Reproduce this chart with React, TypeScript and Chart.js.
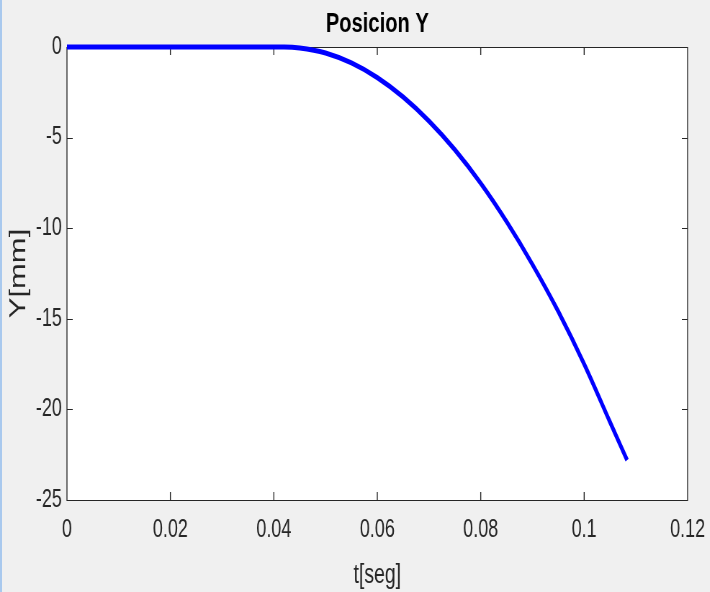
import React, { useEffect, useRef } from "react";
import { Chart, registerables } from "chart.js";

Chart.register(...registerables);

// Data
const tValues = [0, 0.01, 0.02, 0.03, 0.04, 0.042, 0.045, 0.05, 0.055, 0.06, 0.065, 0.07, 0.075, 0.08, 0.085, 0.09, 0.095, 0.1, 0.105, 0.1083];
const yValues = [0, 0, 0, 0, 0, 0, -0.05, -0.33, -0.88, -1.69, -2.76, -4.09, -5.67, -7.52, -9.64, -12.0, -14.6, -17.5, -20.7, -22.8];

const xTickValues = [0, 0.02, 0.04, 0.06, 0.08, 0.1, 0.12];
const xTickLabels = ["0", "0.02", "0.04", "0.06", "0.08", "0.1", "0.12"];
const yTickValues = [-25, -20, -15, -10, -5, 0];
const yTickLabels = ["-25", "-20", "-15", "-10", "-5", "0"];

const titleText = "Posicion Y";
const xTitle = "t[seg]";
const yTitle = "Y[mm]";

const SQUEEZE = 0.72;
const VIEW_W = 710;
const VIEW_H = 592;
const CANVAS_W = Math.round(VIEW_W / SQUEEZE);
const FONT = "'Liberation Sans', Arial, Helvetica, sans-serif";
const AXIS_COLOR = "#262626";

const framePlugin = {
  id: "matlabFrame",
  beforeDraw(chart: any) {
    const { ctx, chartArea } = chart;
    ctx.save();
    ctx.fillStyle = "#f0f0f0";
    ctx.fillRect(0, 0, chart.width, chart.height);
    ctx.fillStyle = "#ffffff";
    ctx.fillRect(chartArea.left, chartArea.top, chartArea.right - chartArea.left, chartArea.bottom - chartArea.top);
    // title centred over the axes box
    ctx.fillStyle = "#000000";
    ctx.font = `bold 28px ${FONT}`;
    ctx.textAlign = "center";
    ctx.textBaseline = "alphabetic";
    ctx.fillText(titleText, (chartArea.left + chartArea.right) / 2, 32);
    ctx.restore();
  },
  beforeDatasetsDraw(chart: any) {
    const { ctx, chartArea } = chart;
    const { left, right, top, bottom } = chartArea;
    const xs = chart.scales.x;
    const ys = chart.scales.y;
    const tl = 8;
    ctx.save();
    ctx.strokeStyle = AXIS_COLOR;
    ctx.lineWidth = 1;
    ctx.beginPath();
    ctx.moveTo(left, top + 0.5);
    ctx.lineTo(right, top + 0.5);
    ctx.moveTo(left, bottom + 0.5);
    ctx.lineTo(right, bottom + 0.5);
    ctx.stroke();
    ctx.lineWidth = 1 / SQUEEZE;
    ctx.beginPath();
    ctx.moveTo(left, top);
    ctx.lineTo(left, bottom + 1);
    ctx.moveTo(right, top);
    ctx.lineTo(right, bottom + 1);
    xs.ticks.forEach((t: any) => {
      const px = xs.getPixelForValue(t.value);
      if (px > left + 2 && px < right - 2) {
        ctx.moveTo(px, bottom);
        ctx.lineTo(px, bottom - tl);
        ctx.moveTo(px, top);
        ctx.lineTo(px, top + tl);
      }
    });
    ctx.stroke();
    ctx.lineWidth = 1;
    ctx.beginPath();
    ys.ticks.forEach((t: any) => {
      const py = Math.round(ys.getPixelForValue(t.value)) + 0.5;
      if (py > top + 2 && py < bottom - 2) {
        ctx.moveTo(left, py);
        ctx.lineTo(left + tl, py);
        ctx.moveTo(right, py);
        ctx.lineTo(right - tl, py);
      }
    });
    ctx.stroke();
    ctx.restore();
  },
};

export default function App() {
  const canvasRef = useRef<HTMLCanvasElement | null>(null);

  useEffect(() => {
    const canvas = canvasRef.current;
    if (!canvas) return;
    const points = tValues.map((t, i) => ({ x: t, y: yValues[i] }));
    const chart = new Chart(canvas, {
      type: "line",
      data: {
        datasets: [
          {
            data: points,
            borderColor: "#0000ff",
            backgroundColor: "#0000ff",
            borderWidth: 5,
            pointRadius: 0,
            fill: false,
            cubicInterpolationMode: "monotone",
            clip: false as any,
          },
        ],
      },
      options: {
        responsive: false,
        animation: false,
        devicePixelRatio: 1,
        layout: { padding: { left: 0, right: 31, top: 47, bottom: 0 } },
        plugins: {
          legend: { display: false },
          tooltip: { enabled: false },
          title: { display: false },
        },
        scales: {
          x: {
            type: "linear",
            min: 0,
            max: 0.12,
            afterBuildTicks: (scale: any) => {
              scale.ticks = xTickValues.map((v) => ({ value: v }));
            },
            afterFit: (scale: any) => {
              scale.height = VIEW_H - 500;
              scale.paddingLeft = 0;
              scale.paddingRight = 0;
            },
            grid: { display: false, drawTicks: false },
            border: { display: false },
            ticks: {
              color: AXIS_COLOR,
              font: { family: FONT, size: 25 },
              padding: 15,
              maxRotation: 0,
              autoSkip: false,
              callback: (_v: any, i: number) => xTickLabels[i],
            },
            title: {
              display: true,
              text: xTitle,
              color: AXIS_COLOR,
              font: { family: FONT, size: 27 },
              padding: { top: 0, bottom: 0 },
            },
          },
          y: {
            type: "linear",
            min: -25,
            max: 0,
            afterBuildTicks: (scale: any) => {
              scale.ticks = yTickValues.map((v) => ({ value: v }));
            },
            afterFit: (scale: any) => {
              scale.width = 93;
              scale.paddingTop = 0;
              scale.paddingBottom = 0;
            },
            grid: { display: false, drawTicks: false },
            border: { display: false },
            ticks: {
              color: AXIS_COLOR,
              font: { family: FONT, size: 25 },
              padding: 7,
              autoSkip: false,
              callback: (_v: any, i: number) => yTickLabels[i],
            },
            title: {
              display: true,
              text: yTitle,
              color: AXIS_COLOR,
              font: { family: FONT, size: 31 },
              padding: { top: 8, bottom: 0 },
            },
          },
        },
      } as any,
      plugins: [framePlugin],
    });
    return () => chart.destroy();
  }, []);

  return (
    <div
      style={{
        position: "fixed",
        left: 0,
        top: 0,
        width: VIEW_W,
        height: VIEW_H,
        overflow: "hidden",
        background: "#f0f0f0",
      }}
    >
      <div
        style={{
          position: "absolute",
          left: 0,
          top: 0,
          width: CANVAS_W,
          height: VIEW_H,
          transform: `scaleX(${SQUEEZE})`,
          transformOrigin: "0 0",
        }}
      >
        <canvas ref={canvasRef} width={CANVAS_W} height={VIEW_H} />
      </div>
      <div
        style={{
          position: "absolute",
          left: 0,
          top: 0,
          width: 2,
          height: VIEW_H,
          background: "#a9c9ee",
        }}
      />
    </div>
  );
}
